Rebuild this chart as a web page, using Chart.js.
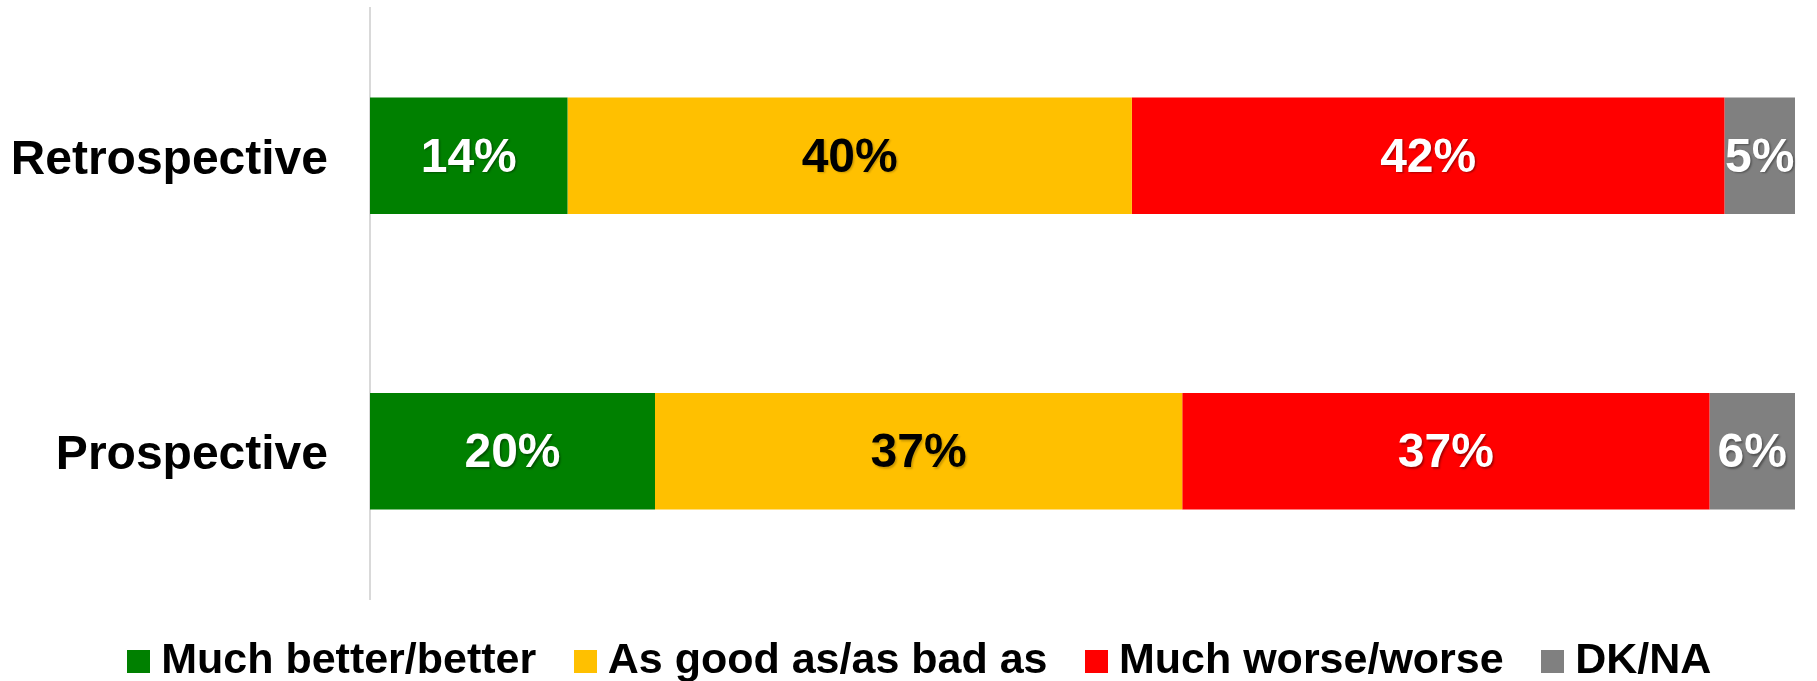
<!DOCTYPE html>
<html>
<head>
<meta charset="utf-8">
<script src="https://cdn.jsdelivr.net/npm/chart.js@4.4.1/dist/chart.umd.min.js"></script>
<style>
  html, body { margin: 0; padding: 0; background: #fff; }
  #wrap { width: 1817px; height: 681px; }
</style>
</head>
<body>
<div id="wrap"><canvas id="grafico"></canvas></div>
<script>
// Dados do gráfico
const categorias = ['Retrospective', 'Prospective'];
const serieNomes = ['Much better/better', 'As good as/as bad as', 'Much worse/worse', 'DK/NA'];
const melhor = [14, 20];
const igual = [40, 37];
const pior = [42, 37];
const naoSabe = [5, 6];
const cores = ['#008000', '#FFC000', '#FF0000', '#808080'];
const corTexto = ['#FFFFFF', '#000000', '#FFFFFF', '#FFFFFF'];

const series = [melhor, igual, pior, naoSabe];

// Cada barra ocupa 100% (a linha Retrospective soma 101)
const totais = categorias.map((_, i) => series.reduce((s, arr) => s + arr[i], 0));

// Quadradinho da legenda (fica mais perto do texto que o padrão)
function quadrado(cor) {
    const c = document.createElement('canvas');
    c.width = 23;
    c.height = 23;
    const g = c.getContext('2d');
    g.fillStyle = cor;
    g.fillRect(0, 0, 23, 23);
    return c;
}

const datasets = series.map((arr, k) => ({
    label: serieNomes[k],
    data: arr.map((v, i) => v / totais[i] * 100),
    rotulos: arr.map(v => v + '%'),
    backgroundColor: cores[k],
    pointStyle: quadrado(cores[k]),
    borderWidth: 0,
    categoryPercentage: 1,
    barPercentage: 0.395
}));

// Plugin simples: ajuste da legenda e rótulos dentro das barras
const rotulosPlugin = {
    id: 'rotulos',
    afterLayout(chart) {
        const lg = chart.legend;
        lg.top -= 7;
        lg.bottom -= 7;
        lg.left += 20;
        lg.right += 20;
    },
    afterDatasetsDraw(chart) {
        const ctx = chart.ctx;
        ctx.save();
        ctx.font = 'bold 48px "Liberation Sans", Arial, sans-serif';
        ctx.textAlign = 'center';
        ctx.textBaseline = 'middle';
        chart.data.datasets.forEach((ds, k) => {
            const meta = chart.getDatasetMeta(k);
            meta.data.forEach((bar, i) => {
                const cx = (bar.x + bar.base) / 2;
                ctx.shadowColor = k === 1 ? 'rgba(0,0,0,0.2)' : 'rgba(0,0,0,0.35)';
                ctx.shadowOffsetX = 1.5;
                ctx.shadowOffsetY = 1.5;
                ctx.shadowBlur = 2;
                ctx.fillStyle = corTexto[k];
                ctx.fillText(ds.rotulos[i], cx, bar.y + 3);
            });
        });
        ctx.restore();
    }
};

new Chart(document.getElementById('grafico').getContext('2d'), {
    type: 'bar',
    data: { labels: categorias, datasets },
    plugins: [rotulosPlugin],
    options: {
        indexAxis: 'y',
        responsive: true,
        maintainAspectRatio: false,
        animation: false,
        layout: { padding: { top: 8, right: 22, left: 14, bottom: -19 } },
        scales: {
            x: {
                stacked: true,
                min: 0,
                max: 100,
                display: false
            },
            y: {
                stacked: true,
                grid: { display: false, drawTicks: false },
                border: { display: true, color: '#d9d9d9', width: 2 },
                afterFit(scale) {
                    scale.width = 356;
                    scale.paddingTop = 0;
                    scale.paddingBottom = 0;
                },
                ticks: {
                    padding: 42,
                    labelOffset: 5,
                    color: '#000',
                    font: { family: '"Liberation Sans", Arial, sans-serif', size: 48, weight: 'bold' }
                }
            }
        },
        plugins: {
            tooltip: { enabled: false },
            legend: {
                position: 'bottom',
                labels: {
                    usePointStyle: true,
                    pointStyleWidth: 2,
                    boxHeight: 23,
                    padding: 48,
                    color: '#000',
                    font: { family: '"Liberation Sans", Arial, sans-serif', size: 43, weight: 'bold' }
                }
            }
        }
    }
});
</script>
</body>
</html>
